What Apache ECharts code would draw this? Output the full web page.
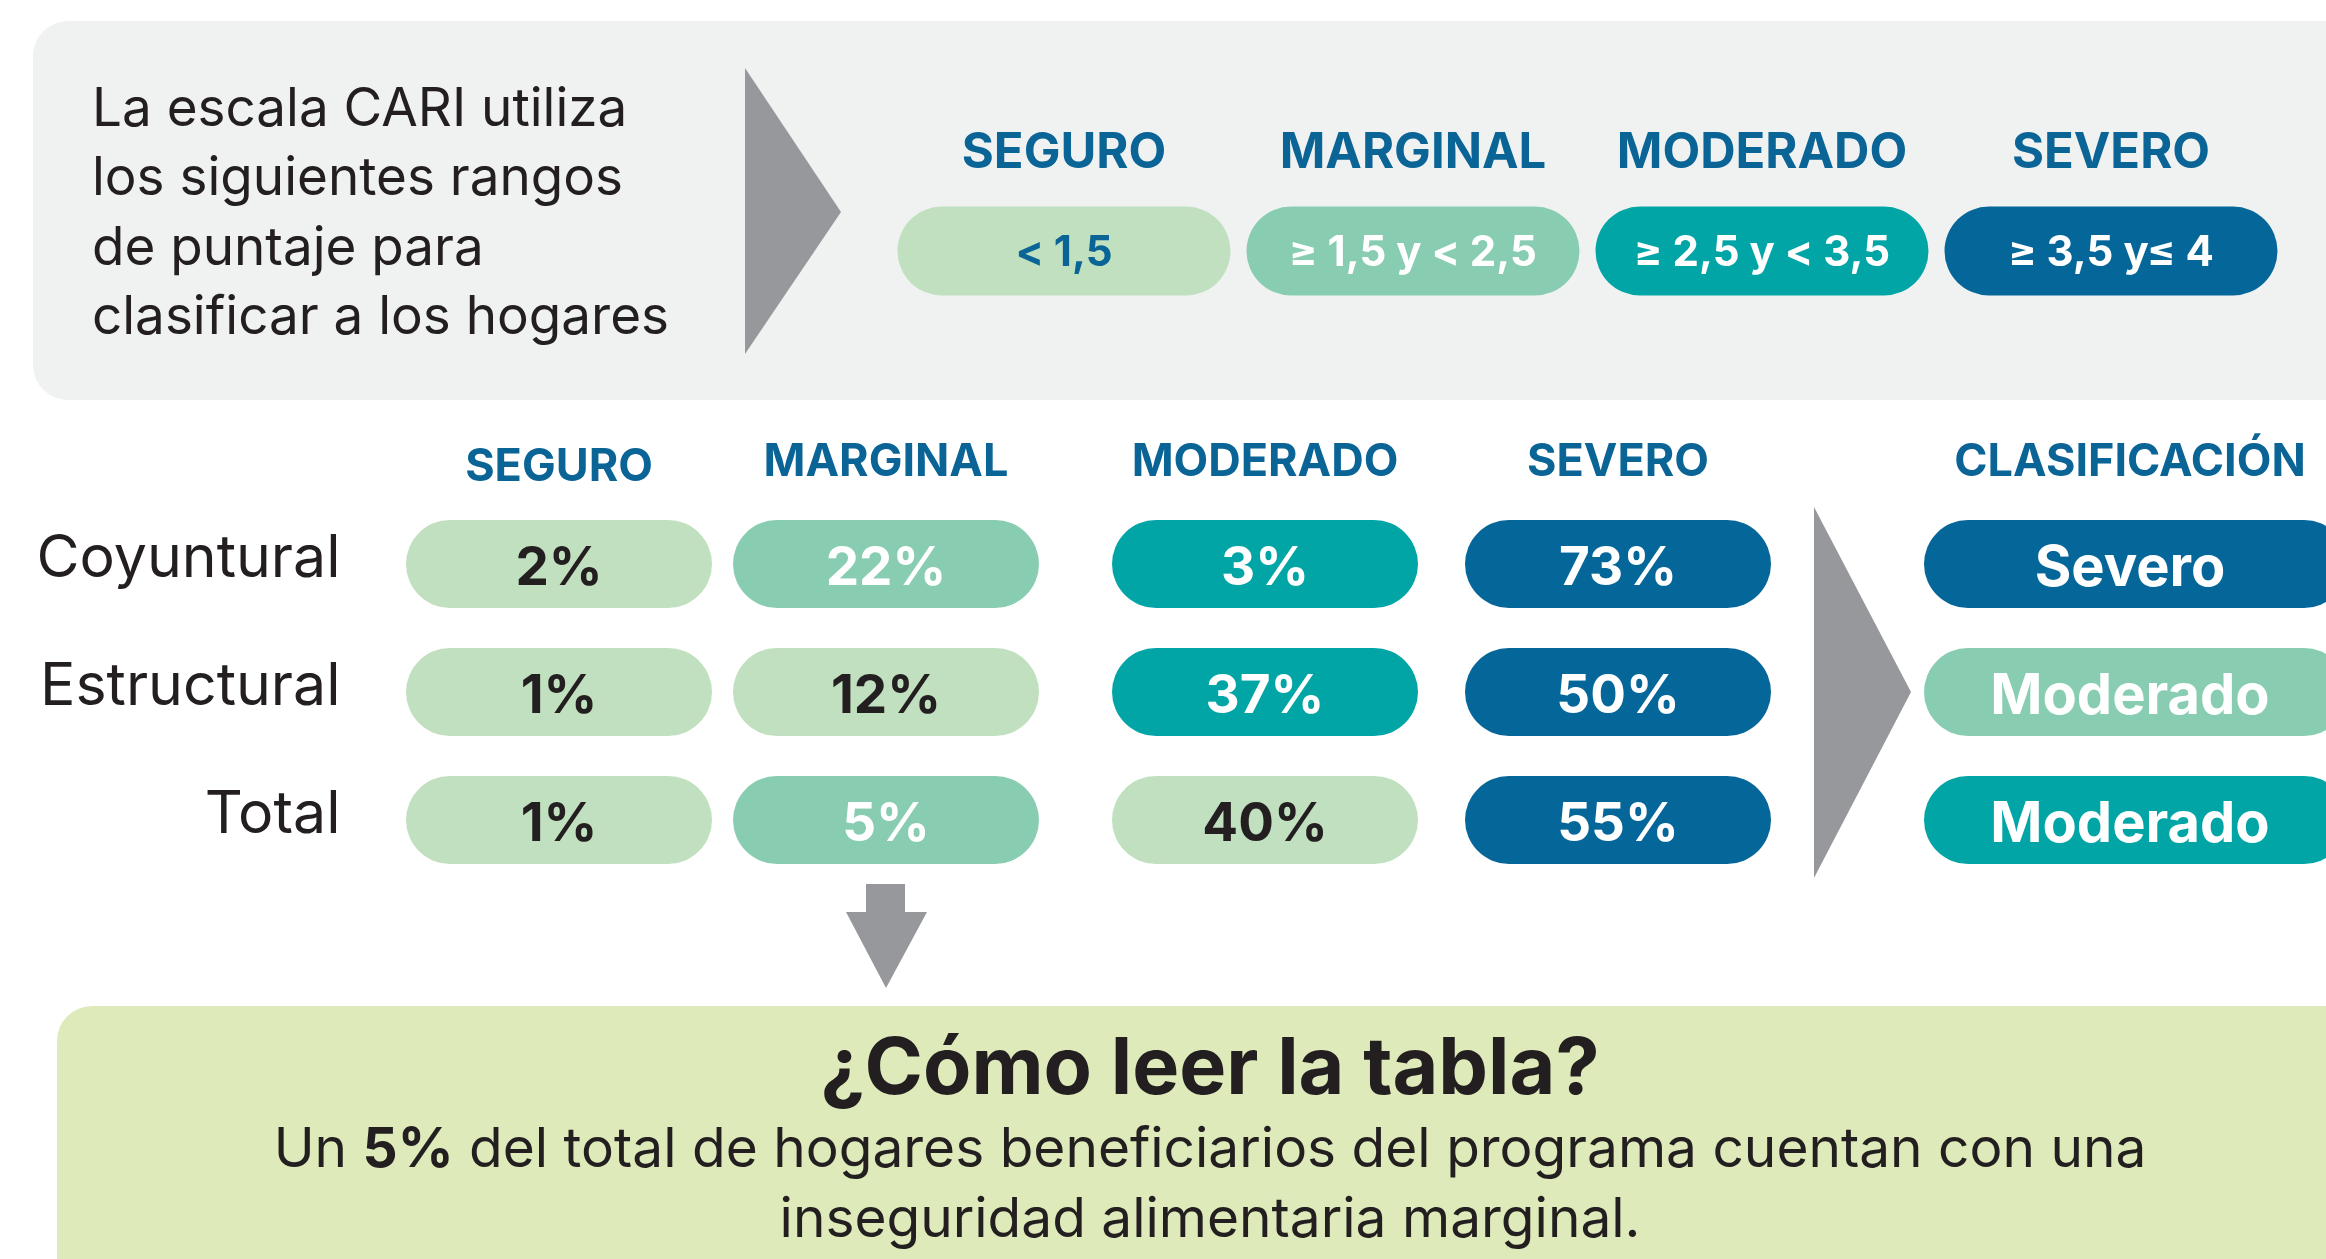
<!DOCTYPE html>
<html><head><meta charset="utf-8">
<script src="https://cdn.jsdelivr.net/npm/echarts@6/dist/echarts.min.js"></script>
<style>html,body{margin:0;padding:0;background:#fff;overflow:hidden}#c{width:2326px;height:1259px}</style>
</head><body><div id="c"></div>
<script>
// ---- data ----
const scaleLevels = ['SEGURO', 'MARGINAL', 'MODERADO', 'SEVERO'];
const scaleRanges = ['< 1,5', '≥ 1,5 y < 2,5', '≥ 2,5 y < 3,5', '≥ 3,5 y≤ 4'];
const tableColumns = ['SEGURO', 'MARGINAL', 'MODERADO', 'SEVERO'];
const householdGroups = ['Coyuntural', 'Estructural', 'Total'];
const pctCoyuntural = [2, 22, 3, 73];
const pctEstructural = [1, 12, 37, 50];
const pctTotal = [1, 5, 40, 55];
const toneCoyuntural = [0, 1, 2, 3];
const toneEstructural = [0, 0, 2, 3];
const toneTotal = [0, 1, 0, 3];
const classHeader = ['CLASIFICACIÓN'];
const classification = ['Severo', 'Moderado', 'Moderado'];
const classTone = [3, 1, 2];
const introLines = ['La escala CARI utiliza', 'los siguientes rangos', 'de puntaje para', 'clasificar a los hogares'];
const noteTitle = '¿Cómo leer la tabla?';
const noteValue = '5%';
const noteLine1 = ' del total de hogares beneficiarios del programa cuentan con una';
const noteLine2 = 'inseguridad alimentaria marginal.';

// ---- styles ----
const FONT = 'Inter';
const TONES = ['#c0e0bf', '#88cdb1', '#02a5a6', '#056699'];
const DARK = '#231f20';
const BLUE = '#0a6496';
const GREY = '#97989b';

const pctRows = [pctCoyuntural, pctEstructural, pctTotal];
const toneRows = [toneCoyuntural, toneEstructural, toneTotal];
const cellData = [];
pctRows.forEach((row, r) => row.forEach((v, c) => cellData.push([c, r, v, toneRows[r][c]])));
const classData = classification.map((v, r) => [0, r, v, classTone[r]]);
const rangeData = scaleRanges.map((v, i) => [i, 0, v, i]);

const colShift = [0, -26, 0, 0];

function pill(cx, cy, w, h, tone, text, size, textFill, textDx, textDy) {
  return {
    type: 'group',
    children: [
      { type: 'rect', shape: { x: cx - w / 2, y: cy - h / 2, width: w, height: h, r: h / 2 }, style: { fill: TONES[tone] } },
      { type: 'text', x: cx + (textDx || 0), y: cy + (textDy || 2), style: { text: text, fill: textFill, font: 'bold ' + size + 'px ' + FONT, align: 'center', verticalAlign: 'middle' } }
    ]
  };
}

const chart = echarts.init(document.getElementById('c'), null, { renderer: 'canvas' });

const hideAxis = { axisLine: { show: false }, axisTick: { show: false }, splitLine: { show: false } };

chart.setOption({
  animation: false,
  backgroundColor: '#ffffff',
  grid: [
    { left: 889.5, width: 1396, top: 206, height: 90 },
    { left: 382.5, width: 1412, top: 500, height: 384 },
    { left: 1934, width: 392, top: 500, height: 384 }
  ],
  xAxis: [
    Object.assign({ type: 'category', gridIndex: 0, data: scaleLevels, position: 'top',
      axisLabel: { interval: 0, margin: 53, verticalAlign: 'middle', color: BLUE, fontFamily: FONT, fontWeight: 'bold', fontSize: 49 } }, hideAxis),
    Object.assign({ type: 'category', gridIndex: 1, data: tableColumns, position: 'top',
      axisLabel: { interval: 0, margin: 38, verticalAlign: 'middle', color: BLUE, fontFamily: FONT, fontWeight: 'bold', fontSize: 45,
        formatter: (v, i) => '{c' + i + '|' + v + '}',
        rich: {
          c0: { padding: [11, 0, 0, 0], fontSize: 45, fontWeight: 'bold', fontFamily: FONT, color: BLUE },
          c1: { padding: [0, 52, 0, 0], fontSize: 45, fontWeight: 'bold', fontFamily: FONT, color: BLUE },
          c2: { fontSize: 45, fontWeight: 'bold', fontFamily: FONT, color: BLUE },
          c3: { fontSize: 45, fontWeight: 'bold', fontFamily: FONT, color: BLUE }
        } } }, hideAxis),
    Object.assign({ type: 'category', gridIndex: 2, data: classHeader, position: 'top',
      axisLabel: { interval: 0, margin: 38, verticalAlign: 'middle', color: BLUE, fontFamily: FONT, fontWeight: 'bold', fontSize: 45 } }, hideAxis)
  ],
  yAxis: [
    Object.assign({ type: 'category', gridIndex: 0, data: ['r'], axisLabel: { show: false } }, hideAxis),
    Object.assign({ type: 'category', gridIndex: 1, data: householdGroups, inverse: true,
      axisLabel: { interval: 0, margin: 42, color: DARK, fontFamily: FONT, fontSize: 59,
        formatter: v => '{r|' + v + '}',
        rich: { r: { padding: [0, 0, 10, 0], fontSize: 59, fontFamily: FONT, color: DARK } } } }, hideAxis),
    Object.assign({ type: 'category', gridIndex: 2, data: householdGroups, inverse: true, axisLabel: { show: false } }, hideAxis)
  ],
  graphic: [
    { type: 'rect', z: 0, shape: { x: 33, y: 21, width: 2330, height: 379, r: 35 }, style: { fill: '#f0f2f1' } },
    { type: 'polygon', z: 1, shape: { points: [[745, 68], [841, 212], [745, 354]] }, style: { fill: GREY } },
    ...introLines.map((t, i) => ({ type: 'text', z: 1, x: 92, y: 125 + i * 69.5 - 15,
      style: { text: t, fill: DARK, font: '53px ' + FONT, align: 'left', verticalAlign: 'middle' } })),
    { type: 'polygon', z: 1, shape: { points: [[1814, 507], [1911, 692], [1814, 878]] }, style: { fill: GREY } },
    { type: 'rect', z: 1, shape: { x: 866, y: 884, width: 39, height: 29 }, style: { fill: GREY } },
    { type: 'polygon', z: 1, shape: { points: [[846, 912], [927, 912], [886, 988]] }, style: { fill: GREY } },
    { type: 'rect', z: 0, shape: { x: 57, y: 1006, width: 2320, height: 320, r: 35 }, style: { fill: '#deeab9' } },
    { type: 'text', z: 1, x: 1210, y: 1070, style: { text: noteTitle, fill: DARK, font: 'bold 79px ' + FONT, align: 'center', verticalAlign: 'middle' } },
    { type: 'text', z: 1, x: 1210, y: 1150, style: { text: 'Un {b|' + noteValue + '}' + noteLine1, fill: DARK, font: '55px ' + FONT, align: 'center', verticalAlign: 'middle',
      rich: { b: { fontWeight: 'bold', fontSize: 55, fontFamily: FONT, fill: DARK } } } },
    { type: 'text', z: 1, x: 1210, y: 1220, style: { text: noteLine2, fill: DARK, font: '55px ' + FONT, align: 'center', verticalAlign: 'middle' } }
  ],
  series: [
    {
      type: 'custom', xAxisIndex: 0, yAxisIndex: 0, z: 5, data: rangeData,
      renderItem: (p, api) => {
        const c = api.coord([api.value(0), api.value(1)]);
        const tone = api.value(3);
        return pill(c[0], c[1], 333, 89, tone, scaleRanges[api.value(0)], 42, tone === 0 ? BLUE : '#ffffff');
      }
    },
    {
      type: 'custom', xAxisIndex: 1, yAxisIndex: 1, z: 5, data: cellData,
      renderItem: (p, api) => {
        const col = api.value(0);
        const c = api.coord([col, api.value(1)]);
        const tone = api.value(3);
        return pill(c[0] + colShift[col], c[1], 306, 88, tone, api.value(2) + '%', 53, tone === 0 ? DARK : '#ffffff', 0, 5);
      }
    },
    {
      type: 'custom', xAxisIndex: 2, yAxisIndex: 2, z: 5, clip: false, data: classData,
      renderItem: (p, api) => {
        const r = api.value(1);
        const c = api.coord([0, r]);
        const tone = api.value(3);
        return pill(c[0] + 6, c[1], 424, 88, tone, classification[r], 56, '#ffffff', -6, 5);
      }
    }
  ]
});
</script></body></html>
